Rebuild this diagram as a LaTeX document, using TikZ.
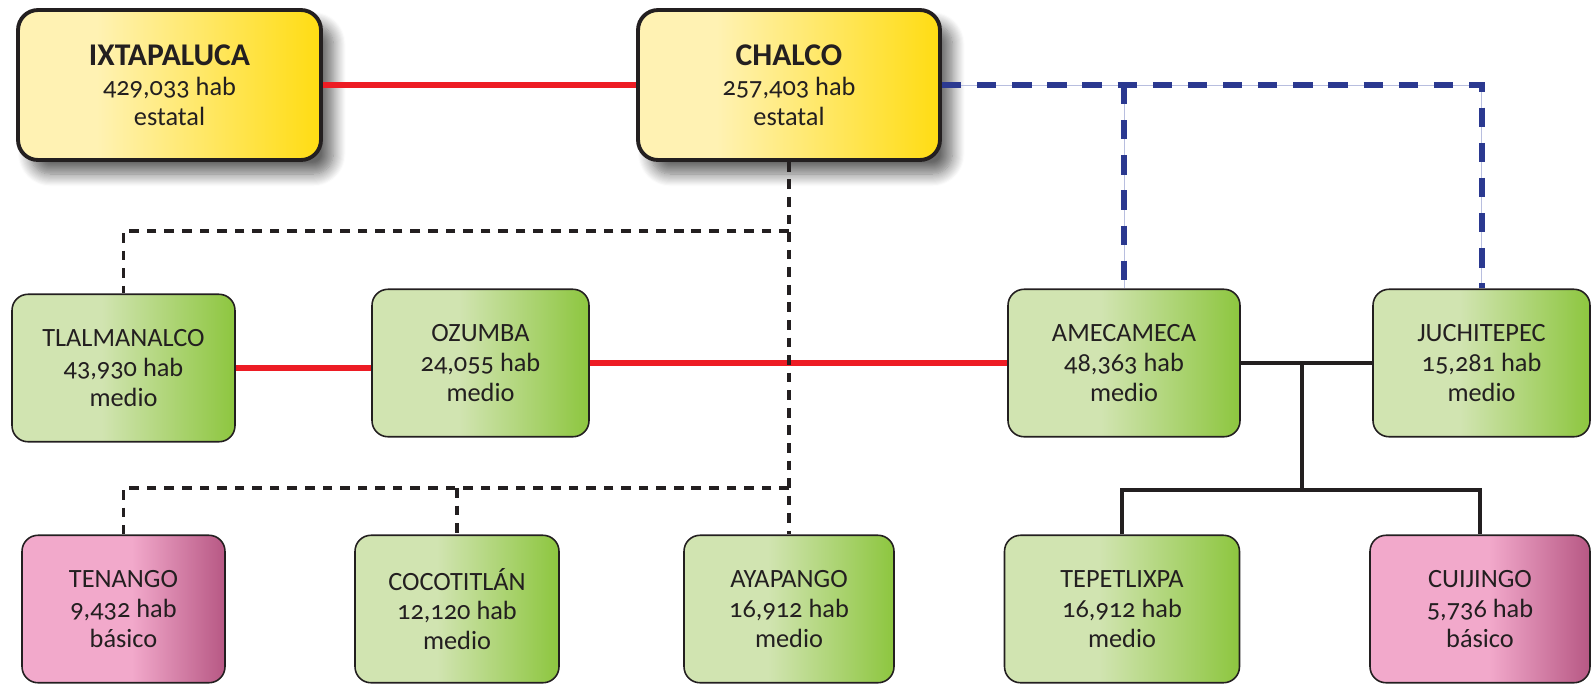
\documentclass[tikz,border=0pt]{standalone}
\usepackage{fontspec}
\setmainfont{Carlito}[Numbers=OldStyle]
\usetikzlibrary{shadows.blur}

\definecolor{txt}{HTML}{231F20}
\definecolor{rojo}{HTML}{ED1C24}
\definecolor{azul}{HTML}{2B3990}
\definecolor{azulclaro}{HTML}{B8BEDF}
\definecolor{yelL}{HTML}{FFF2B3}
\definecolor{yelR}{HTML}{FFDC12}
\definecolor{grnL}{HTML}{D1E4B1}
\definecolor{grnR}{HTML}{8DC63F}
\definecolor{pnkL}{HTML}{F2A9CB}
\definecolor{pnkR}{HTML}{B75884}
\pgfdeclarehorizontalshading{amarillo}{100bp}{color(0bp)=(yelL); color(25bp)=(yelL); color(38bp)=(yelL); color(75bp)=(yelR); color(100bp)=(yelR)}
\pgfdeclarehorizontalshading{verde}{100bp}{color(0bp)=(grnL); color(25bp)=(grnL); color(45bp)=(grnL); color(75bp)=(grnR); color(100bp)=(grnR)}
\pgfdeclarehorizontalshading{rosa}{100bp}{color(0bp)=(pnkL); color(25bp)=(pnkL); color(52bp)=(pnkL); color(75bp)=(pnkR); color(100bp)=(pnkR)}

\tikzset{
  cabecera/.style={draw=txt, line width=2.2pt, rounded corners=0.4cm, shading=amarillo,
    align=center, text=txt, minimum height=3cm,
    blur shadow={shadow xshift=7pt, shadow yshift=-8pt, shadow blur radius=7pt,
      shadow blur steps=12, shadow opacity=60}},
  muni/.style={draw=txt, line width=0.9pt, rounded corners=0.32cm, align=center, text=txt,
    minimum height=2.95cm},
  medio/.style={muni, shading=verde},
  basico/.style={muni, shading=rosa},
  linearoja/.style={rojo, line width=3.3pt},
  lineaazul/.style={azul, line width=3.4pt, dash pattern=on 11pt off 9pt},
  lineafina/.style={azulclaro, line width=0.5pt},
  lineanegra/.style={txt, line width=2pt, dash pattern=on 5.5pt off 4.5pt},
  lineasolida/.style={txt, line width=2.5pt}
}

\begin{document}
\begin{tikzpicture}[x=0.02cm, y=-0.02cm, font=\fontsize{15}{17}\selectfont]
  \useasboundingbox (0,0) rectangle (1592,684);

  % municipios
  \node[cabecera, minimum width=6.06cm] (ixtapaluca) at (169.5,85) {{\fontsize{18}{17}\selectfont\bfseries IXTAPALUCA}\\429,033 hab\\estatal};
  \node[cabecera, minimum width=6.04cm] (chalco) at (789,85) {{\fontsize{18}{17}\selectfont\bfseries CHALCO}\\257,403 hab\\estatal};
  \node[medio, minimum width=4.46cm] (tlalmanalco) at (123.5,368) {TLALMANALCO\\43,930 hab\\medio};
  \node[medio, minimum width=4.34cm] (ozumba) at (480.5,363) {OZUMBA\\24,055 hab\\medio};
  \node[medio, minimum width=4.64cm] (amecameca) at (1124,363) {AMECAMECA\\48,363 hab\\medio};
  \node[medio, minimum width=4.34cm] (juchitepec) at (1481.5,363) {JUCHITEPEC\\15,281 hab\\medio};
  \node[basico, minimum width=4.06cm] (tenango) at (123.5,609) {TENANGO\\9,432 hab\\básico};
  \node[medio, minimum width=4.08cm] (cocotitlan) at (457,609) {COCOTITLÁN\\12,120 hab\\medio};
  \node[medio, minimum width=4.2cm] (ayapango) at (789,609) {AYAPANGO\\16,912 hab\\medio};
  \node[medio, minimum width=4.7cm] (tepetlixpa) at (1122,609) {TEPETLIXPA\\16,912 hab\\medio};
  \node[basico, minimum width=4.4cm] (cuijingo) at (1480,609) {CUIJINGO\\5,736 hab\\básico};

  \coordinate (ramal1) at (0,231);
  \coordinate (ramal2) at (0,488);
  \coordinate (enlace) at (1302,490);

  % rojas
  \draw[linearoja] (ixtapaluca.east) -- (chalco.west);
  \draw[linearoja] (tlalmanalco.east) -- (tlalmanalco.east -| ozumba.west);
  \draw[linearoja] (ozumba.east) -- (amecameca.west);

  % azules
  \draw[lineafina] (chalco.east) -| (juchitepec.north);
  \draw[lineafina] (amecameca.north |- chalco.east) -- (amecameca.north);
  \draw[lineaazul] (chalco.east) -| (juchitepec.north);
  \draw[lineaazul] (amecameca.north |- chalco.east) -- (amecameca.north);

  % negras punteadas
  \draw[lineanegra] (chalco.south) -- (ayapango.north);
  \draw[lineanegra] (chalco.south |- ramal1) -| (tlalmanalco.north);
  \draw[lineanegra] (ayapango.north |- ramal2) -| (tenango.north);
  \draw[lineanegra] (cocotitlan.north |- ramal2) -- (cocotitlan.north);

  % negras solidas
  \draw[lineasolida] (amecameca.east) -- (juchitepec.west);
  \draw[lineasolida] (enlace |- amecameca.east) -- (enlace);
  \draw[lineasolida] (tepetlixpa.north) |- (cuijingo.north |- enlace) -- (cuijingo.north);
\end{tikzpicture}
\end{document}
